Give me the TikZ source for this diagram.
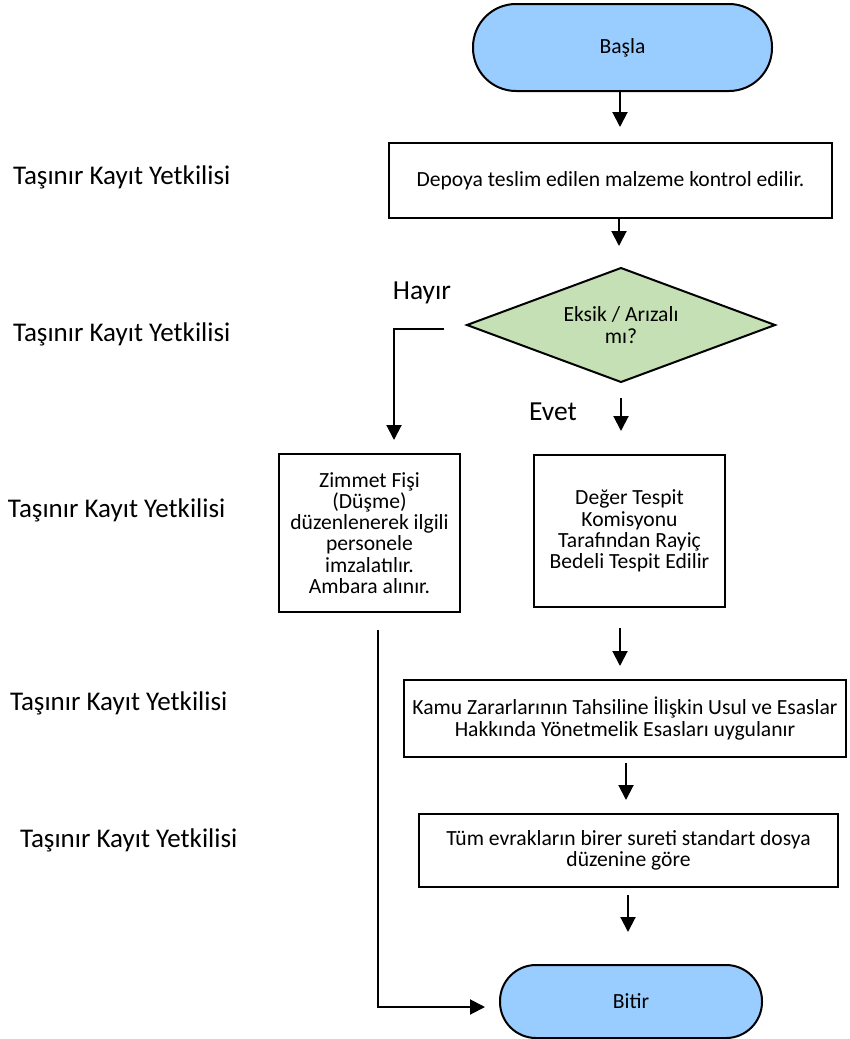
\documentclass[tikz,border=0pt]{standalone}
\usepackage{fontspec}
\setmainfont{Carlito}
\usetikzlibrary{shapes.geometric,arrows.meta}
\definecolor{termblue}{RGB}{153,204,255}
\definecolor{decgreen}{RGB}{197,224,180}
\begin{document}
\begin{tikzpicture}[x=1pt,y=-1pt,
  every node/.style={inner sep=0pt, outer sep=0pt},
  boxtext/.style={font=\fontsize{21.6}{21.2}\selectfont},
  term/.style={draw, line width=2pt, fill=termblue, boxtext},
  procbox/.style={draw, line width=2.2pt, fill=white, align=center, boxtext},
  decision/.style={draw, diamond, aspect=2.7, line width=2pt, fill=decgreen, align=center, boxtext},
  role/.style={anchor=west, font=\fontsize{27}{30}\selectfont},
  answer/.style={font=\fontsize{27.5}{30}\selectfont},
  arr/.style={line width=2pt, -{Triangle[length=15pt,width=15pt]}},
  plain/.style={line width=2pt}]

\path[use as bounding box] (0,0) rectangle (849,1039);

% responsible role column
\node[role] (r1) at (13,177) {Taşınır Kayıt Yetkilisi};
\node[role] (r2) at (13,334) {Taşınır Kayıt Yetkilisi};
\node[role] (r3) at (8,510)  {Taşınır Kayıt Yetkilisi};
\node[role] (r4) at (10,703) {Taşınır Kayıt Yetkilisi};
\node[role] (r5) at (20,840) {Taşınır Kayıt Yetkilisi};

% flow steps
\node[term, rounded corners=43pt, minimum width=299pt, minimum height=87pt] (start) at (622.5,47.5) {Başla};
\node[procbox, minimum width=443pt, minimum height=75pt] (depo) at (610.5,180.5) {Depoya teslim edilen malzeme kontrol edilir.};
\node[decision, minimum width=308pt, minimum height=114pt] (check) at (621,325) {Eksik / Arızalı\\mı?};
\node[procbox, minimum width=181pt, minimum height=158pt] (zimmet) at (369.5,533)
  {Zimmet Fişi\\(Düşme)\\düzenlenerek ilgili\\personele\\imzalatılır.\\Ambara alınır.};
\node[procbox, minimum width=191pt, minimum height=152pt] (deger) at (629.5,531)
  {Değer Tespit\\Komisyonu\\Tarafından Rayiç\\Bedeli Tespit Edilir};
\node[procbox, minimum width=442pt, minimum height=77pt] (kamu) at (625,718.5)
  {Kamu Zararlarının Tahsiline İlişkin Usul ve Esaslar\\Hakkında Yönetmelik Esasları uygulanır};
\node[procbox, minimum width=419pt, minimum height=73pt] (tum) at (628.5,850.5)
  {Tüm evrakların birer sureti standart dosya\\düzenine göre};
\node[term, rounded corners=36pt, minimum width=262pt, minimum height=73pt] (stop) at (631,1001.5) {Bitir};

% branch labels
\node[answer] (no) at (422,293) {Hayır};
\node[answer] (yes) at (553,412) {Evet};

% connector end points
\coordinate (a1) at (620,127);
\coordinate (a2) at (619,246);
\coordinate (e0) at (621,398);
\coordinate (e1) at (621,431);
\coordinate (h0) at (444,329);
\coordinate (h1) at (394,329);
\coordinate (h2) at (394,440);
\coordinate (d0) at (620,628);
\coordinate (d1) at (620,666);
\coordinate (k0) at (626,763);
\coordinate (k1) at (626,800);
\coordinate (t0) at (628,895);
\coordinate (t1) at (628,932);
\coordinate (l0) at (378,630);
\coordinate (l1) at (378,1007);
\coordinate (l2) at (485,1007);

% connectors
\draw[arr] (start.south -| a1) -- (a1);
\draw[arr] (depo.south -| a2) -- (a2);
\draw[arr] (e0) -- (e1);
\draw[arr] (h0) -- (h1) -- (h2);
\draw[arr] (d0) -- (d1);
\draw[arr] (k0) -- (k1);
\draw[arr] (t0) -- (t1);
\draw[arr] (l0) -- (l1) -- (l2);
\end{tikzpicture}
\end{document}
